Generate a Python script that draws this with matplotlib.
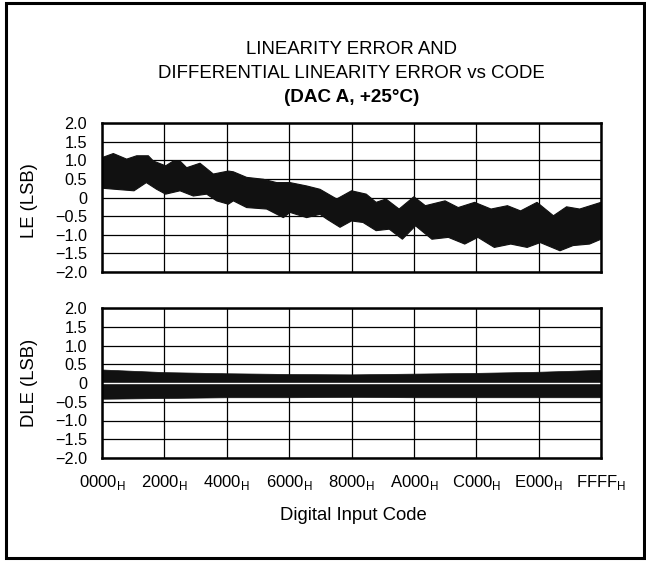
import matplotlib
matplotlib.use('Agg')
import matplotlib.pyplot as plt
from matplotlib.patches import Rectangle

plt.rcParams['font.family'] = ['Liberation Sans', 'DejaVu Sans']
plt.rcParams['mathtext.fontset'] = 'custom'
plt.rcParams['mathtext.rm'] = 'Liberation Sans'

# LE band, upper and lower envelope (code, LSB)
le_up_code = [0, 1489, 3240, 4553, 6085, 6742, 8362, 9369, 10245, 11120, 12871,
              14622, 16593, 17250, 19001, 21190, 22941, 24693, 26882, 28632, 30828,
              32768, 34708, 36002, 37296, 39020, 40961, 42470, 45057, 46782, 48938,
              51094, 53250, 54975, 57131, 59288, 61012, 62737, 65535]
le_up = [1.07, 1.18, 1.03, 1.12, 1.12, 0.98, 0.85, 0.98, 0.98, 0.80, 0.92,
         0.63, 0.71, 0.69, 0.54, 0.49, 0.40, 0.40, 0.31, 0.22, -0.04,
         0.18, 0.09, -0.13, -0.04, -0.31, 0.02, -0.22, -0.09, -0.27, -0.13,
         -0.31, -0.22, -0.36, -0.13, -0.49, -0.25, -0.31, -0.13]
le_lo_code = [0, 1751, 4202, 5823, 7180, 8362, 10245, 11996, 13747, 15060, 16593,
              17250, 19001, 21628, 23817, 24693, 26882, 28632, 29534, 31259, 32768,
              34277, 36002, 37727, 39452, 41176, 43332, 45488, 47644, 49369, 51525,
              53681, 55838, 57563, 60150, 61874, 64030, 65535]
le_lo = [0.25, 0.22, 0.18, 0.40, 0.22, 0.09, 0.18, 0.04, 0.09, -0.09, -0.18,
         -0.09, -0.27, -0.31, -0.54, -0.40, -0.54, -0.45, -0.58, -0.80, -0.63,
         -0.67, -0.89, -0.85, -1.12, -0.76, -1.12, -1.07, -1.25, -1.07, -1.34,
         -1.25, -1.34, -1.21, -1.43, -1.29, -1.25, -1.12]

# DLE band
dle_code = [0, 8192, 16384, 24576, 32768, 40960, 49152, 57344, 65535]
dle_up = [0.36, 0.29, 0.26, 0.24, 0.23, 0.25, 0.27, 0.30, 0.35]
dle_lo = [-0.42, -0.40, -0.38, -0.38, -0.37, -0.38, -0.38, -0.38, -0.38]

xtick_pos = [0, 8192, 16384, 24576, 32768, 40960, 49152, 57344, 65535]
xtick_txt = ['0000', '2000', '4000', '6000', '8000', 'A000', 'C000', 'E000', 'FFFF']
ytick_pos = [2.0, 1.5, 1.0, 0.5, 0, -0.5, -1.0, -1.5, -2.0]
ytick_txt = ['2.0', '1.5', '1.0', '0.5', '0', '\u22120.5', '\u22121.0', '\u22121.5', '\u22122.0']

W, H = 646, 563
fig = plt.figure(figsize=(W / 100, H / 100), dpi=100)

ax1 = fig.add_axes([102 / W, 1 - 272 / H, 499 / W, 149 / H])
ax2 = fig.add_axes([102 / W, 1 - 458 / H, 499 / W, 150 / H])

for ax in (ax1, ax2):
    ax.set_xlim(0, 65535)
    ax.set_ylim(-2, 2)
    ax.set_yticks(ytick_pos)
    ax.set_yticklabels(ytick_txt, fontsize=11.7)
    ax.set_xticks(xtick_pos)
    ax.tick_params(length=0)
    ax.tick_params(axis='y', pad=10.8)
    ax.grid(True, color='black', lw=0.9)
    ax.set_axisbelow(True)
    for s in ax.spines.values():
        s.set_linewidth(1.8)

ax1.fill(le_up_code + le_lo_code[::-1], le_up + le_lo[::-1],
         facecolor='#111111', edgecolor='#111111', lw=0.8)
ax1.set_xticklabels([])

ax2.fill_between(dle_code, dle_lo, dle_up, color='#111111', lw=0.5, edgecolor='#111111')
ax2.axhline(0, color='white', lw=1.0)
ax2.set_xticklabels([t + r'$_\mathrm{H}$' for t in xtick_txt], fontsize=12)
ax2.tick_params(axis='x', pad=10.5)

cx = 351.5 / W
fig.text(cx, 1 - 50 / H, 'LINEARITY ERROR AND', ha='center', va='center', fontsize=13.4)
fig.text(cx, 1 - 74 / H, 'DIFFERENTIAL LINEARITY ERROR vs CODE', ha='center', va='center', fontsize=13.4)
fig.text(cx, 1 - 98 / H, '(DAC A, +25\u00b0C)', ha='center', va='center', fontsize=13.6, fontweight='bold')

fig.text(29 / W, 1 - 201 / H, 'LE (LSB)', rotation=90, ha='center', va='center', fontsize=13.3)
fig.text(29 / W, 1 - 383 / H, 'DLE (LSB)', rotation=90, ha='center', va='center', fontsize=13.3)
fig.text(353 / W, 1 - 516 / H, 'Digital Input Code', ha='center', va='center', fontsize=13.3)

fig.patches.append(Rectangle((5.5 / W, 5 / H), 638.5 / W, 555.5 / H, transform=fig.transFigure,
                             fill=False, lw=2.2, edgecolor='black'))

fig.savefig('out.png', dpi=100)
